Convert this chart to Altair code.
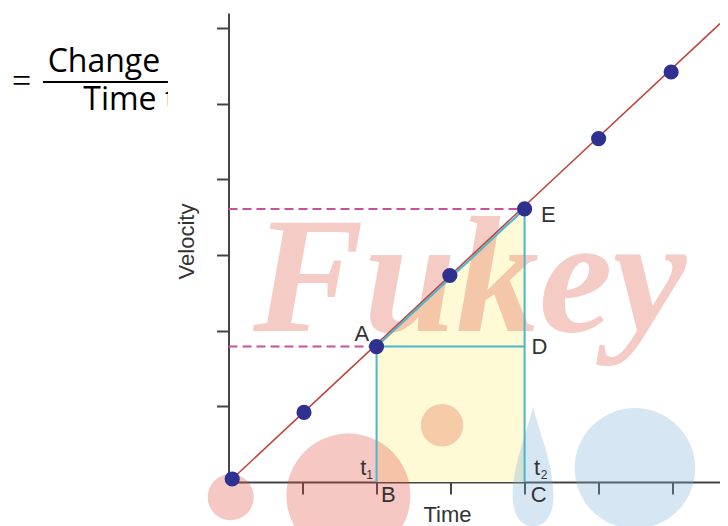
import altair as alt
import pandas as pd

# ---- data (time / velocity units) ----
pt_time = [0.05, 1.02, 2.0, 2.99, 4.0, 5.0, 5.98]
pt_vel = [0.04, 0.92, 1.79, 2.73, 3.61, 4.54, 5.42]

line_time = [0.05, 6.64]
line_vel = [0.04, 6.06]

# A and E
A = (2.0, 1.79)
E = (4.0, 3.61)

tick_vals = [1, 2, 3, 4, 5, 6]

labels = ["A", "E", "D", "B", "C", "t", "t"]
label_x = [1.80, 4.32, 4.20, 2.16, 4.19, 1.82, 4.17]
label_y = [1.87, 3.44, 1.69, -0.27, -0.27, 0.09, 0.09]

subs = ["1", "2"]
sub_x = [1.905, 4.264]
sub_y = [0.045, 0.045]

# watermark pieces (round blobs)
wm_x = [1.62, 5.49, 0.03, 2.885]
wm_y = [-0.18, 0.18, -0.20, 0.75]
wm_r = [70, 68, 26, 24]
wm_col = ["#dd4837", "#76acd4", "#dd4837", "#e0603a"]

# watermark teardrop (blue, near C)
drop_x = [4.115]
drop_y = [0.205]

# equation fragment (top-left)
eq_text = ["Change", "Time t"]
eq_x = [-2.443, -1.962]
eq_y = [5.42, 4.914]

X = alt.Scale(domain=[0, 6.64], nice=False, zero=False)
Y = alt.Scale(domain=[0, 6.2], nice=False, zero=False)

TXT = "#333333"
AX = "#454545"

x_axis = alt.Axis(values=tick_vals, labels=False, grid=False, tickSize=12, tickWidth=2,
                  tickColor=AX, domainColor=AX, domainWidth=2, title="Time",
                  titleFont="Liberation Sans", titleFontSize=22, titleFontWeight="normal",
                  titleColor=TXT, titleX=218.5, titleY=39, titleAlign="center",
                  titleBaseline="alphabetic")
y_axis = alt.Axis(values=tick_vals, labels=False, grid=False, tickSize=12, tickWidth=2,
                  tickColor=AX, domainColor=AX, domainWidth=2, title="Velocity",
                  titleFont="Liberation Sans", titleFontSize=22, titleFontWeight="normal",
                  titleColor=TXT, titleX=-35.5, titleY=228, titleAlign="center",
                  titleBaseline="alphabetic", titleAngle=270)

# yellow area
area_df = pd.DataFrame({"t": [A[0], E[0]], "v": [A[1], E[1]], "z": [0, 0]})
area = alt.Chart(area_df).mark_area(color="#fffad6").encode(
    x=alt.X("t:Q", scale=X, axis=x_axis),
    y=alt.Y("v:Q", scale=Y, axis=y_axis),
    y2="z:Q",
)

# watermark
wm_df = pd.DataFrame({"x": wm_x, "y": wm_y, "s": [3.14159 * r * r for r in wm_r], "c": wm_col})
wm = alt.Chart(wm_df).mark_circle(opacity=0.3).encode(
    x=alt.X("x:Q", scale=X), y=alt.Y("y:Q", scale=Y),
    size=alt.Size("s:Q", scale=None, legend=None),
    color=alt.Color("c:N", scale=None, legend=None),
)
drop_path = ("M0,-1 C0.12,-0.5 0.34,-0.05 0.34,0.5 C0.34,0.8 0.2,1 0,1 "
             "C-0.2,1 -0.34,0.8 -0.34,0.5 C-0.34,-0.05 -0.12,-0.5 0,-1 Z")
drop = alt.Chart(pd.DataFrame({"x": drop_x, "y": drop_y})).mark_point(
    shape=drop_path, size=14400, filled=True, fill="#76acd4", fillOpacity=0.3,
    strokeWidth=0, opacity=1,
).encode(x=alt.X("x:Q", scale=X), y=alt.Y("y:Q", scale=Y))
wm_txt = alt.Chart(pd.DataFrame({"x": [0.33], "y": [2.0], "t": ["Fukey"]})).mark_text(
    font="Liberation Serif", fontSize=166, fontStyle="italic", fontWeight="bold",
    color="#dd4837", opacity=0.28, align="left", baseline="alphabetic",
).encode(x=alt.X("x:Q", scale=X), y=alt.Y("y:Q", scale=Y), text="t:N")

# dashed magenta lines
dash_df = pd.DataFrame({"x": [0, 0], "x2": [A[0], E[0]], "y": [A[1], E[1]]})
dashes = alt.Chart(dash_df).mark_rule(color="#c8509e", strokeWidth=2, strokeDash=[9, 5]).encode(
    x=alt.X("x:Q", scale=X), x2="x2:Q", y=alt.Y("y:Q", scale=Y))

# red line
red_df = pd.DataFrame({"x": [line_time[0]], "x2": [line_time[1]], "y": [line_vel[0]], "y2": [line_vel[1]]})
red = alt.Chart(red_df).mark_rule(color="#c0463c", strokeWidth=1.6).encode(
    x=alt.X("x:Q", scale=X), x2="x2:Q", y=alt.Y("y:Q", scale=Y), y2="y2:Q")

# cyan construction lines
cy_df = pd.DataFrame({
    "x": [A[0], E[0], A[0], A[0]],
    "x2": [A[0], E[0], E[0], E[0]],
    "y": [0, 0, A[1], A[1]],
    "y2": [A[1], E[1], A[1], E[1]],
})
cyan = alt.Chart(cy_df).mark_rule(color="#48b6d0", strokeWidth=2).encode(
    x=alt.X("x:Q", scale=X), x2="x2:Q", y=alt.Y("y:Q", scale=Y), y2="y2:Q")

# points
pts_df = pd.DataFrame({"t": pt_time, "v": pt_vel})
pts = alt.Chart(pts_df).mark_circle(color="#2e3190", size=230, opacity=1).encode(
    x=alt.X("t:Q", scale=X), y=alt.Y("v:Q", scale=Y))

# labels
lab_df = pd.DataFrame({"x": label_x, "y": label_y, "t": labels})
labs = alt.Chart(lab_df).mark_text(font="Liberation Sans", fontSize=22, color=TXT,
                                   align="center", baseline="alphabetic").encode(
    x=alt.X("x:Q", scale=X), y=alt.Y("y:Q", scale=Y), text="t:N")
sub_df = pd.DataFrame({"x": sub_x, "y": sub_y, "t": subs})
sublabs = alt.Chart(sub_df).mark_text(font="Liberation Sans", fontSize=12, color=TXT,
                                      align="center", baseline="alphabetic").encode(
    x=alt.X("x:Q", scale=X), y=alt.Y("y:Q", scale=Y), text="t:N")

# equation fragment
eq_df = pd.DataFrame({"x": eq_x, "y": eq_y, "t": eq_text})
eq = alt.Chart(eq_df).mark_text(font="Open Sans", fontSize=32, color="#000000",
                                align="left", baseline="alphabetic").encode(
    x=alt.X("x:Q", scale=X), y=alt.Y("y:Q", scale=Y), text="t:N")
eqsign = alt.Chart(pd.DataFrame({"x": [-2.926], "y": [5.15], "t": ["="]})).mark_text(
    font="Liberation Serif", fontSize=34, color="#000000", align="left", baseline="alphabetic"
).encode(x=alt.X("x:Q", scale=X), y=alt.Y("y:Q", scale=Y), text="t:N")
bar_df = pd.DataFrame({"x": [-2.507], "x2": [-0.818], "y": [5.288]})
frac = alt.Chart(bar_df).mark_rule(color="#000000", strokeWidth=2).encode(
    x=alt.X("x:Q", scale=X), x2="x2:Q", y=alt.Y("y:Q", scale=Y))
cover_df = pd.DataFrame({"x": [-0.818], "x2": [-0.33], "y": [5.30], "y2": [4.75]})
cover = alt.Chart(cover_df).mark_rect(color="#ffffff").encode(
    x=alt.X("x:Q", scale=X), x2="x2:Q", y=alt.Y("y:Q", scale=Y), y2="y2:Q")

chart = alt.layer(
    area, wm, drop, wm_txt, dashes, red, cyan, pts, labs, sublabs, eq, eqsign, frac, cover
).properties(
    width=491.5, height=469,
    autosize=alt.AutoSizeParams(type="none"),
    padding={"left": 220.5, "top": 5, "right": 0, "bottom": 44},
    background="#ffffff",
).configure_view(stroke=None)

chart.save("out.html", embed_options={"renderer": "svg", "actions": False})
